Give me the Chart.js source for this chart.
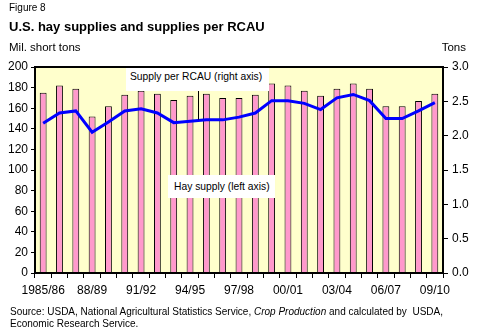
<!DOCTYPE html>
<html>
<head>
<meta charset="utf-8">
<script src="https://cdn.jsdelivr.net/npm/chart.js@4/dist/chart.umd.min.js"></script>
<style>
  body { margin: 0; background: #fff; font-family: "Liberation Sans", Arial, sans-serif; color: #000; }
  #wrap { position: relative; width: 479px; height: 331px; overflow: hidden; }
  #chart { position: absolute; left: 0; top: 0; }
  .txt { position: absolute; line-height: 1; white-space: nowrap; }
  .note { position: absolute; background: #fff; line-height: 1; white-space: nowrap; font-size: 10.3px; }
</style>
</head>
<body>
<div id="wrap">
  <canvas id="chart" width="479" height="331"></canvas>
  <div class="txt" style="left:9px;top:3px;font-size:10px">Figure 8</div>
  <div class="txt" style="left:9px;top:20px;font-size:13px;font-weight:bold">U.S. hay supplies and supplies per RCAU</div>
  <div class="txt" style="left:9px;top:41.5px;font-size:11.5px">Mil. short tons</div>
  <div class="txt" style="right:13px;top:41.5px;font-size:11.5px">Tons</div>
  <div class="note" style="left:126px;top:68px;width:143px;height:23px;padding:4px 0 0 4px;box-sizing:border-box">Supply per RCAU (right axis)</div>
  <div class="note" style="left:168px;top:175px;width:107px;height:23px;padding:7px 0 0 6px;box-sizing:border-box">Hay supply (left axis)</div>
  <div class="txt" style="left:10px;top:306px;font-size:10px;line-height:11.7px">Source: USDA, National Agricultural Statistics Service, <i>Crop Production</i> and calculated by &nbsp;USDA,<br>Economic Research Service.</div>
</div>
<script>
// Crop years 1985/86 - 2009/10
const seasons = [
  "1985/86", "86/87", "87/88", "88/89", "89/90", "90/91", "91/92", "92/93", "93/94",
  "94/95", "95/96", "96/97", "97/98", "98/99", "99/00", "00/01", "01/02", "02/03",
  "03/04", "04/05", "05/06", "06/07", "07/08", "08/09", "09/10"
];
// Hay supply, million short tons (left axis)
const haySupply = [
  175, 182, 179, 152, 162, 173, 177, 174, 168,
  172, 174, 170, 170, 173, 184, 182, 177, 172,
  179, 184, 179, 162, 162, 167, 174
];
// Supply per roughage-consuming animal unit, tons (right axis)
const supplyPerRcau = [
  2.18, 2.33, 2.36, 2.05, 2.20, 2.36, 2.39, 2.33, 2.19,
  2.21, 2.23, 2.23, 2.27, 2.33, 2.51, 2.51, 2.47, 2.38,
  2.55, 2.60, 2.51, 2.25, 2.25, 2.36, 2.48
];
const LABEL_EVERY = 3;

const FONT = { family: "'Liberation Sans', Arial, sans-serif", size: 12 };

// yellow plot background, black frame, and the leader line for the RCAU note
const plotFrame = {
  id: "plotFrame",
  beforeDatasetsDraw(chart) {
    const { ctx, chartArea: a } = chart;
    ctx.save();
    ctx.fillStyle = "#FFFFCC";
    ctx.fillRect(a.left, a.top, a.right - a.left, a.bottom - a.top);
    ctx.restore();
  },
  afterDraw(chart) {
    const { ctx, chartArea: a, scales } = chart;
    ctx.save();
    ctx.strokeStyle = "#000";
    ctx.lineWidth = 2;
    ctx.strokeRect(a.left, a.top, a.right - a.left, a.bottom - a.top);

    const x = scales.x.getPixelForValue(9.5);
    const yv = (supplyPerRcau[9] + supplyPerRcau[10]) / 2;
    const y = scales.y1.getPixelForValue(yv);
    ctx.lineWidth = 1;
    ctx.beginPath();
    ctx.moveTo(Math.round(x) + 0.5, 82);
    ctx.lineTo(Math.round(x) + 0.5, y - 1);
    ctx.stroke();
    ctx.restore();
  }
};

new Chart(document.getElementById("chart"), {
  data: {
    labels: seasons,
    datasets: [
      {
        type: "line",
        label: "Supply per RCAU (right axis)",
        data: supplyPerRcau,
        yAxisID: "y1",
        borderColor: "#0000FF",
        borderWidth: 3,
        pointRadius: 0,
        tension: 0,
        order: 0
      },
      {
        type: "bar",
        label: "Hay supply (left axis)",
        data: haySupply,
        yAxisID: "y",
        backgroundColor: "#FF99CC",
        borderColor: "#000",
        borderWidth: 1,
        categoryPercentage: 1,
        barPercentage: 0.42,
        order: 1
      }
    ]
  },
  options: {
    responsive: false,
    animation: false,
    events: [],
    layout: { padding: { top: 67, bottom: 34, left: 0, right: 0 } },
    plugins: { legend: { display: false }, tooltip: { enabled: false } },
    scales: {
      x: {
        offset: true,
        grid: { offset: true, drawOnChartArea: false, tickLength: 5, color: "#000", lineWidth: 1 },
        border: { color: "#000", width: 2 },
        ticks: {
          autoSkip: false,
          maxRotation: 0,
          padding: 5,
          color: "#000",
          font: FONT,
          callback: (v, i) => (i % LABEL_EVERY === 0 ? seasons[i] : "")
        },
        afterFit(s) { s.height = 24; }
      },
      y: {
        position: "left",
        min: 0,
        max: 200,
        ticks: { stepSize: 20, padding: 3, color: "#000", font: FONT },
        grid: { drawOnChartArea: false, tickLength: 4, color: "#000" },
        border: { color: "#000", width: 2 },
        afterFit(s) { s.width = 35; }
      },
      y1: {
        position: "right",
        min: 0,
        max: 3,
        ticks: { stepSize: 0.5, padding: 4, color: "#000", font: FONT, callback: v => v.toFixed(1) },
        grid: { drawOnChartArea: false, tickLength: 5, color: "#000" },
        border: { color: "#000", width: 2 },
        afterFit(s) { s.width = 36; }
      }
    }
  },
  plugins: [plotFrame]
});
</script>
</body>
</html>
